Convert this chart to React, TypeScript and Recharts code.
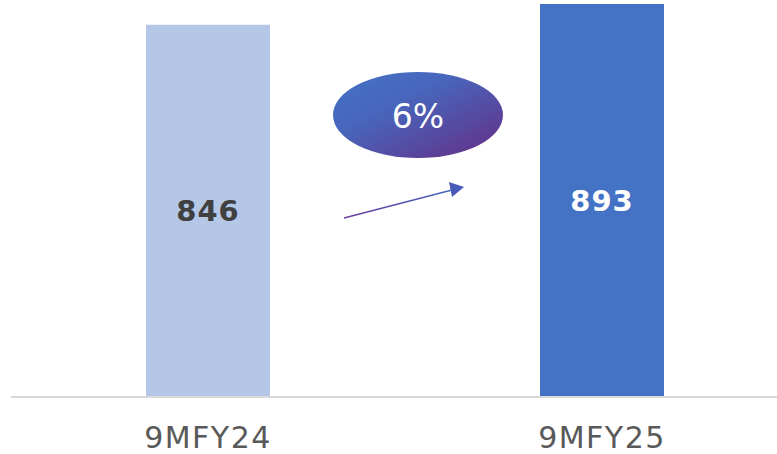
import { Bar, BarChart, Cell, Customized, LabelList, XAxis, YAxis } from 'recharts';

const periods = ['9MFY24', '9MFY25'];
const revenue = [846, 893];
const barColors = ['#b4c7e7', '#4472c4'];
const labelColors = ['#404040', '#ffffff'];

const data = periods.map((period, i) => ({ period, value: revenue[i] }));
const growth = Math.round((revenue[1] / revenue[0] - 1) * 100);

function GrowthBubble() {
  return (
    <g>
      <defs>
        <linearGradient id="bubbleFill" x1="0" y1="0" x2="1" y2="1">
          <stop offset="0%" stopColor="#4472c4" />
          <stop offset="35%" stopColor="#4767bd" />
          <stop offset="100%" stopColor="#652d86" />
        </linearGradient>
        <linearGradient id="arrowStroke" x1="0" y1="0" x2="1" y2="0">
          <stop offset="0%" stopColor="#6a3d9a" />
          <stop offset="100%" stopColor="#4466c0" />
        </linearGradient>
      </defs>
      <ellipse cx={418} cy={115} rx={85} ry={43} fill="url(#bubbleFill)" />
      <text
        x={418}
        y={116}
        textAnchor="middle"
        dominantBaseline="central"
        fill="#ffffff"
        fontSize={33}
        fontFamily="'DejaVu Sans', sans-serif"
      >
        {growth}%
      </text>
      <line x1={344} y1={218} x2={452} y2={190} stroke="url(#arrowStroke)" strokeWidth={1.5} />
      <polygon points="464,187 449,182 452,197" fill="#4a5cb8" />
    </g>
  );
}

export default function App() {
  return (
    <div style={{ position: 'fixed', left: 0, top: 0, width: 777, height: 454, overflow: 'hidden', background: '#fff' }}>
      <BarChart width={800} height={454} data={data} margin={{ top: 1, right: 1, bottom: 0, left: 11 }}>
        <XAxis
          dataKey="period"
          height={57}
          tickLine={false}
          axisLine={{ stroke: '#d9d9d9', strokeWidth: 2 }}
          tickMargin={24}
          tick={{ fill: '#595959', fontSize: 30, fontFamily: "'DejaVu Sans', sans-serif", letterSpacing: 1.5 }}
        />
        <YAxis hide domain={[0, 900]} />
        <Bar dataKey="value" barSize={124} isAnimationActive={false}>
          {data.map((_, i) => (
            <Cell key={i} fill={barColors[i]} />
          ))}
          <LabelList
            dataKey="value"
            position="center"
            content={(props: any) => {
              const { x, y, width, height, value, index } = props;
              return (
                <text
                  x={x + width / 2}
                  y={y + height / 2}
                  textAnchor="middle"
                  dominantBaseline="central"
                  fill={labelColors[index]}
                  fontSize={29}
                  fontWeight="bold"
                  fontFamily="'DejaVu Sans', sans-serif"
                  letterSpacing={1}
                >
                  {value}
                </text>
              );
            }}
          />
        </Bar>
        <Customized component={GrowthBubble} />
      </BarChart>
    </div>
  );
}
